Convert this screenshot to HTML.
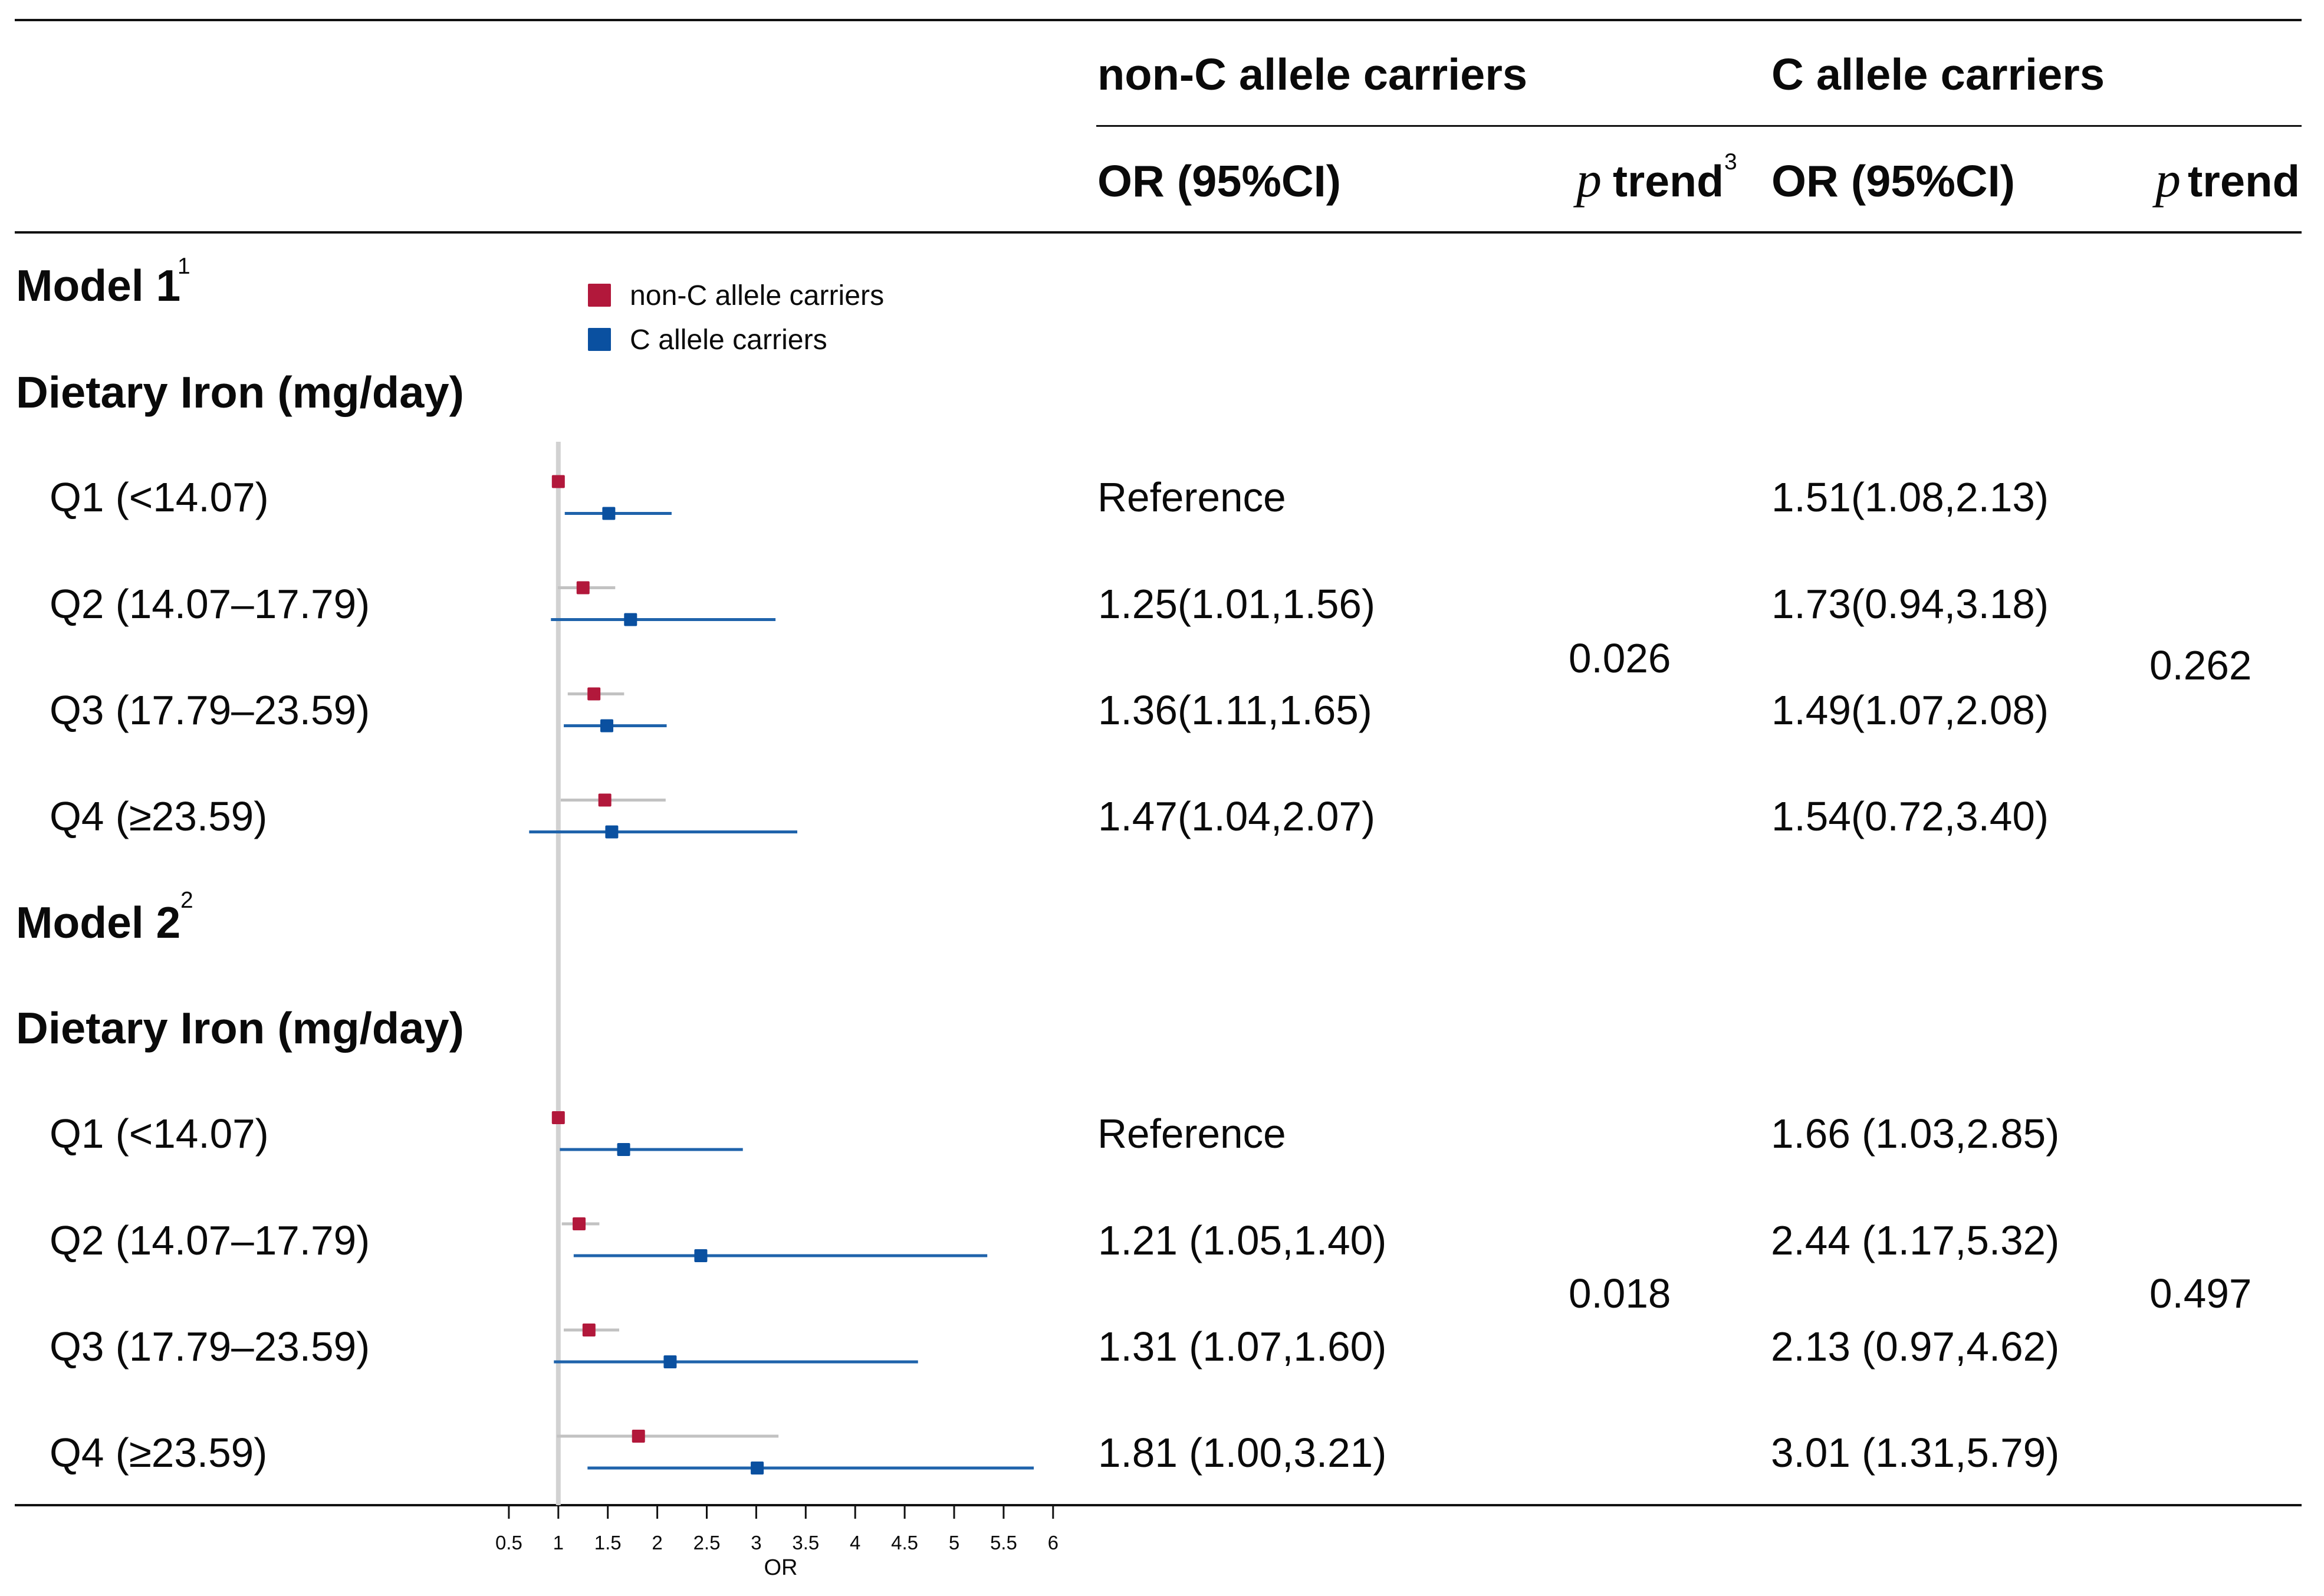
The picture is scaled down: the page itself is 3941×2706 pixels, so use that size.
<!DOCTYPE html>
<html lang="en">
<head>
<meta charset="utf-8">
<title>Forest plot of dietary iron and OR by C allele carrier status</title>
<style>
html,body{margin:0;padding:0;background:#fff;width:3941px;height:2706px;overflow:hidden}
svg{display:block}
text{font-family:"Liberation Sans",Arial,sans-serif;fill:#0a0a0a}
.b{font-weight:700;font-size:75px}
.r{font-size:69.3px}
.s{font-size:39px}
.l{font-size:48.2px}
.t{font-size:33px}
.p{font-family:"Liberation Serif",serif;font-style:italic;font-size:86px}
</style>
</head>
<body>
<svg id="chart" xmlns="http://www.w3.org/2000/svg" width="3941" height="2706" viewBox="0 0 3941 2706">
<rect x="0" y="0" width="3941" height="2706" fill="#fff"/>
<g stroke="#111">
<line x1="25" x2="3903" y1="34" y2="34" stroke-width="4"/>
<line x1="1859" x2="3903" y1="213.5" y2="213.5" stroke-width="3"/>
<line x1="25" x2="3903" y1="394" y2="394" stroke-width="4"/>
<line x1="25" x2="3903" y1="2552" y2="2552" stroke-width="4"/>
</g>
<g>
<text class="b" x="1861" y="152" textLength="729" lengthAdjust="spacingAndGlyphs">non-C allele carriers</text>
<text class="b" x="3004" y="152" textLength="565" lengthAdjust="spacingAndGlyphs">C allele carriers</text>
<text class="b" x="1861" y="333" textLength="413" lengthAdjust="spacingAndGlyphs">OR (95%CI)</text>
<text class="p" x="2673" y="333">p</text>
<text class="b" x="2735" y="333" textLength="188" lengthAdjust="spacingAndGlyphs">trend</text>
<text class="s" x="2924" y="287">3</text>
<text class="b" x="3004" y="333" textLength="413" lengthAdjust="spacingAndGlyphs">OR (95%CI)</text>
<text class="p" x="3655" y="333">p</text>
<text class="b" x="3710" y="333" textLength="190" lengthAdjust="spacingAndGlyphs">trend</text>
</g>
<g>
<text class="b" x="27" y="510">Model 1</text>
<text class="s" x="301" y="464">1</text>
<text class="b" x="27" y="691" textLength="760" lengthAdjust="spacingAndGlyphs">Dietary Iron (mg/day)</text>
<text class="r" x="84" y="867">Q1 (&lt;14.07)</text>
<text class="r" x="84" y="1048">Q2 (14.07–17.79)</text>
<text class="r" x="84" y="1228">Q3 (17.79–23.59)</text>
<text class="r" x="84" y="1408">Q4 (≥23.59)</text>
<text class="b" x="27" y="1590">Model 2</text>
<text class="s" x="306" y="1539">2</text>
<text class="b" x="27" y="1769" textLength="760" lengthAdjust="spacingAndGlyphs">Dietary Iron (mg/day)</text>
<text class="r" x="84" y="1946">Q1 (&lt;14.07)</text>
<text class="r" x="84" y="2127">Q2 (14.07–17.79)</text>
<text class="r" x="84" y="2307">Q3 (17.79–23.59)</text>
<text class="r" x="84" y="2487">Q4 (≥23.59)</text>
</g>
<g>
<text class="r" x="1861" y="867">Reference</text>
<text class="r" x="1862" y="1048">1.25(1.01,1.56)</text>
<text class="r" x="1862" y="1228">1.36(1.11,1.65)</text>
<text class="r" x="1862" y="1408">1.47(1.04,2.07)</text>
<text class="r" x="1861" y="1946">Reference</text>
<text class="r" x="1862" y="2127">1.21 (1.05,1.40)</text>
<text class="r" x="1862" y="2307">1.31 (1.07,1.60)</text>
<text class="r" x="1862" y="2487">1.81 (1.00,3.21)</text>
<text class="r" x="2660" y="1140">0.026</text>
<text class="r" x="2660" y="2217">0.018</text>
</g>
<g>
<text class="r" x="3004" y="867">1.51(1.08,2.13)</text>
<text class="r" x="3004" y="1048">1.73(0.94,3.18)</text>
<text class="r" x="3004" y="1228">1.49(1.07,2.08)</text>
<text class="r" x="3004" y="1408">1.54(0.72,3.40)</text>
<text class="r" x="3003" y="1946">1.66 (1.03,2.85)</text>
<text class="r" x="3003" y="2127">2.44 (1.17,5.32)</text>
<text class="r" x="3003" y="2307">2.13 (0.97,4.62)</text>
<text class="r" x="3003" y="2487">3.01 (1.31,5.79)</text>
<text class="r" x="3645" y="1152">0.262</text>
<text class="r" x="3645" y="2217">0.497</text>
</g>
<g>
<rect x="997" y="481" width="39" height="39" rx="2" fill="#b2183b"/>
<text class="l" x="1068" y="517">non-C allele carriers</text>
<rect x="997" y="556" width="39" height="39" rx="2" fill="#0a50a0"/>
<text class="l" x="1068" y="592">C allele carriers</text>
</g>
<g id="plot"></g>
</svg>
<script>
var tickValues = [0.5, 1, 1.5, 2, 2.5, 3, 3.5, 4, 4.5, 5, 5.5, 6];
var tickLabels = ["0.5", "1", "1.5", "2", "2.5", "3", "3.5", "4", "4.5", "5", "5.5", "6"];
var rowNames = ["m1-q1", "m1-q2", "m1-q3", "m1-q4", "m2-q1", "m2-q2", "m2-q3", "m2-q4"];
var nonCOr = [1, 1.25, 1.36, 1.47, 1, 1.21, 1.31, 1.81];
var nonCLow = [1, 1.01, 1.11, 1.04, 1, 1.05, 1.07, 1.00];
var nonCHigh = [1, 1.56, 1.65, 2.07, 1, 1.40, 1.60, 3.21];
var cOr = [1.51, 1.73, 1.49, 1.54, 1.66, 2.44, 2.13, 3.01];
var cLow = [1.08, 0.94, 1.07, 0.72, 1.03, 1.17, 0.97, 1.31];
var cHigh = [2.13, 3.18, 2.08, 3.40, 2.85, 5.32, 4.62, 5.79];

var NS = "http://www.w3.org/2000/svg";
var plot = document.getElementById("plot");
function xScale(v) { return 946.8 + (v - 1) * 167.8; }
function rowCenter(i) {
  var base = i < 4 ? 843.5 : 1922;
  return base + (i % 4) * 180;
}
function make(tag, attrs) {
  var el = document.createElementNS(NS, tag);
  for (var k in attrs) el.setAttribute(k, attrs[k]);
  plot.appendChild(el);
  return el;
}
var refLine = make("line", {x1: xScale(1), x2: xScale(1), y1: 749, y2: 2552, stroke: "#d2d2d2", "stroke-width": 8});



tickValues.forEach(function (v, i) {
  var tick = make("line", {x1: xScale(v), x2: xScale(v), y1: 2552, y2: 2575, stroke: "#111", "stroke-width": 3});
  
  
  var label = make("text", {x: xScale(v), y: 2627, "text-anchor": "middle", "class": "t"});
  label.textContent = tickLabels[i];
  
  
});
var axisTitle = make("text", {x: 1324, y: 2670, "text-anchor": "middle", "font-size": 38});
axisTitle.textContent = "OR";



rowNames.forEach(function (name, i) {
  var yRed = rowCenter(i) - 27;
  var yBlue = rowCenter(i) + 27;
  if (nonCHigh[i] > nonCLow[i]) {
    var redCi = make("line", {x1: xScale(nonCLow[i]), x2: xScale(nonCHigh[i]), y1: yRed, y2: yRed, stroke: "#c2c2c2", "stroke-width": 5, "stroke-linecap": "square"});
    
    
  }
  var redMark = make("rect", {x: xScale(nonCOr[i]) - 11, y: yRed - 11, width: 22, height: 22, rx: 2, fill: "#b2183b"});
  
  
  var blueCi = make("line", {x1: xScale(cLow[i]), x2: xScale(cHigh[i]), y1: yBlue, y2: yBlue, stroke: "#1f63ab", "stroke-width": 5, "stroke-linecap": "square"});
  
  
  var blueMark = make("rect", {x: xScale(cOr[i]) - 11, y: yBlue - 11, width: 22, height: 22, rx: 2, fill: "#0a50a0"});
  
  
});
</script>
</body>
</html>
